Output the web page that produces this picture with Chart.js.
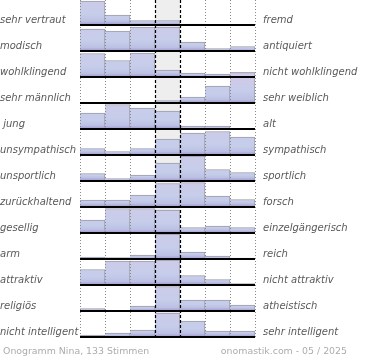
<!DOCTYPE html>
<html><head><meta charset="utf-8">
<script src="https://cdn.jsdelivr.net/npm/chart.js@4.4.1/dist/chart.umd.min.js"></script>
<style>html,body{margin:0;padding:0;background:#fff;}#wrap{width:370px;height:360px;position:relative;}</style>
</head><body><div id="wrap"><canvas id="c" width="370" height="360"></canvas></div>
<script>
// scale positions 1..7 (left pole -> right pole)
const columns = ['1', '2', '3', '4', '5', '6', '7'];
const leftLabels = ['sehr vertraut', 'modisch', 'wohlklingend', 'sehr männlich', ' jung', 'unsympathisch', 'unsportlich', 'zurückhaltend', 'gesellig', 'arm', 'attraktiv', 'religiös', 'nicht intelligent'];
const rightLabels = ['fremd', 'antiquiert', 'nicht wohlklingend', 'sehr weiblich', 'alt', 'sympathisch', 'sportlich', 'forsch', 'einzelgängerisch', 'reich', 'nicht attraktiv', 'atheistisch', 'sehr intelligent'];

// estimated bar heights per row (7 columns)
const vertraut      = [24, 10, 4.5, 4.5, 1, 0, 0];
const modisch       = [22, 20, 24, 24, 9, 2.5, 4.5];
const wohlklingend  = [23.5, 16.5, 24, 7, 4, 3, 4.5];
const maennlich     = [0, 0, 0, 2.5, 6, 17, 30.5];
const jung          = [16, 24.5, 21, 18, 3, 3, 0];
const unsympathisch = [6.5, 3.5, 6.5, 16, 22, 23.5, 18];
const unsportlich   = [7.5, 2.5, 6, 18, 25, 11.5, 8.5];
const zurueckhaltend= [7, 7, 12, 23.5, 24.5, 11, 7.5];
const gesellig      = [13, 24.5, 24.5, 23, 5.5, 7, 5.5];
const arm           = [2, 1.5, 4, 25, 7, 3, 1];
const attraktiv     = [15.5, 24, 24, 25, 9.5, 5.5, 1.5];
const religioes     = [2.5, 0, 5, 24.5, 11, 11, 6];
const intelligent   = [2, 4, 7, 24, 16, 6, 6];
const rows = [vertraut, modisch, wohlklingend, maennlich, jung, unsympathisch, unsportlich, zurueckhaltend, gesellig, arm, attraktiv, religioes, intelligent];

const footerLeft = 'Onogramm Nina, 133 Stimmen';
const footerRight = 'onomastik.com - 05 / 2025';

const ROW_STEP = 26;
const Y_MAX = 338;
const TOP_BASE = 313;
const baseOf = i => TOP_BASE - ROW_STEP * i;
const LABEL_SHIFT = 5;

const BLUE = [198, 205, 234], LAV = [214, 200, 232];
function mix(A, B, t){ return A.map((v, k) => v + (B[k] - v) * t); }
function css(A){ return 'rgb(' + A.map(v => Math.round(v)).join(',') + ')'; }

function barFill(ctx, i){
  const chart = ctx.chart;
  if (!chart.chartArea || ctx.type !== 'data') return css(BLUE);
  const h = rows[i][ctx.dataIndex];
  const y = chart.scales.y;
  const p0 = y.getPixelForValue(baseOf(i));
  const p1 = y.getPixelForValue(baseOf(i) + h);
  const hp = p0 - p1;
  if (hp < 0.5) return css(BLUE);
  const g = chart.ctx.createLinearGradient(0, p0, 0, p1);
  const s = Math.min(0.45, 3.5 / hp);
  const top = mix(BLUE, LAV, Math.max(0, Math.min(1, (hp - 20) / 12)));
  g.addColorStop(0, '#9d95cb');
  g.addColorStop(s, '#bcc1e4');
  g.addColorStop(Math.min(0.9, s + 0.3), css(BLUE));
  g.addColorStop(1, css(top));
  return g;
}

const frame = {
  id: 'frame',
  beforeDatasetsDraw(chart){
    const {ctx, chartArea: a, scales: {x}} = chart;
    const half = (x.getPixelForValue(1) - x.getPixelForValue(0)) / 2;
    const mid = x.getPixelForValue(3);
    ctx.save();
    ctx.fillStyle = '#eeeeee';
    ctx.fillRect(Math.round(mid - half), a.top, Math.round(2 * half), a.bottom - a.top);
    ctx.restore();
  },
  afterDatasetsDraw(chart){
    const {ctx, chartArea: a, scales: {x, y}} = chart;
    const half = (x.getPixelForValue(1) - x.getPixelForValue(0)) / 2;
    const first = x.getPixelForValue(0) - half;
    ctx.save();
    for (let k = 0; k <= columns.length; k++){
      const px = Math.round(first + k * 2 * half) + 0.5;
      ctx.beginPath();
      if (k === 3 || k === 4){ ctx.strokeStyle = '#000'; ctx.setLineDash([3, 2]); ctx.lineWidth = 1.2; }
      else { ctx.strokeStyle = '#8a8a8a'; ctx.setLineDash([1, 2]); ctx.lineWidth = 1; }
      ctx.moveTo(px, a.top); ctx.lineTo(px, a.bottom + 1);
      ctx.stroke();
    }
    ctx.setLineDash([]);
    ctx.strokeStyle = '#000';
    ctx.lineWidth = 2;
    rows.forEach((r, i) => {
      const py = Math.round(y.getPixelForValue(baseOf(i)));
      ctx.beginPath(); ctx.moveTo(a.left, py); ctx.lineTo(a.right, py); ctx.stroke();
    });
    ctx.restore();
  },
  afterDraw(chart){
    const ctx = chart.ctx;
    ctx.save();
    ctx.font = '9.4px "DejaVu Sans"';
    ctx.fillStyle = '#acacac';
    ctx.textBaseline = 'middle';
    ctx.textAlign = 'left';
    ctx.fillText(footerLeft, 3, 352);
    ctx.textAlign = 'right';
    ctx.fillText(footerRight, 347, 352);
    ctx.restore();
  }
};

const labelFont = {family: '"DejaVu Sans"', size: 10, style: 'italic'};
function sideAxis(position, labels, width, align, pad){
  return {
    type: 'linear', position, min: 0, max: Y_MAX,
    grid: {display: false, drawTicks: false}, border: {display: false},
    afterBuildTicks: s => { s.ticks = labels.map((l, i) => ({value: baseOf(i) + LABEL_SHIFT})); },
    afterFit: s => { s.width = width; s.paddingTop = 0; s.paddingBottom = 0; },
    ticks: {autoSkip: false, crossAlign: align, padding: pad, color: '#595959', font: labelFont,
      callback: (v, idx) => labels[idx]}
  };
}

new Chart(document.getElementById('c'), {
  type: 'bar',
  data: {
    labels: columns,
    datasets: rows.map((vals, i) => ({
      label: leftLabels[i],
      data: vals.map(h => [baseOf(i), baseOf(i) + h]),
      yAxisID: 'y',
      order: rows.length - i,
      grouped: false,
      barPercentage: 1,
      categoryPercentage: 1,
      backgroundColor: ctx => barFill(ctx, i),
      borderColor: '#9b9ba6',
      borderWidth: {top: 1, right: 1, bottom: 0, left: 0},
      borderSkipped: false
    }))
  },
  options: {
    responsive: false, animation: false, devicePixelRatio: 1,
    layout: {padding: {top: 0, bottom: 22, left: 0, right: 0}},
    plugins: {legend: {display: false}, tooltip: {enabled: false}},
    scales: {
      x: {display: false, offset: true},
      y: sideAxis('left', leftLabels, 80, 'far', 0),
      yR: sideAxis('right', rightLabels, 115, 'near', 8)
    }
  },
  plugins: [frame]
});
</script></body></html>
